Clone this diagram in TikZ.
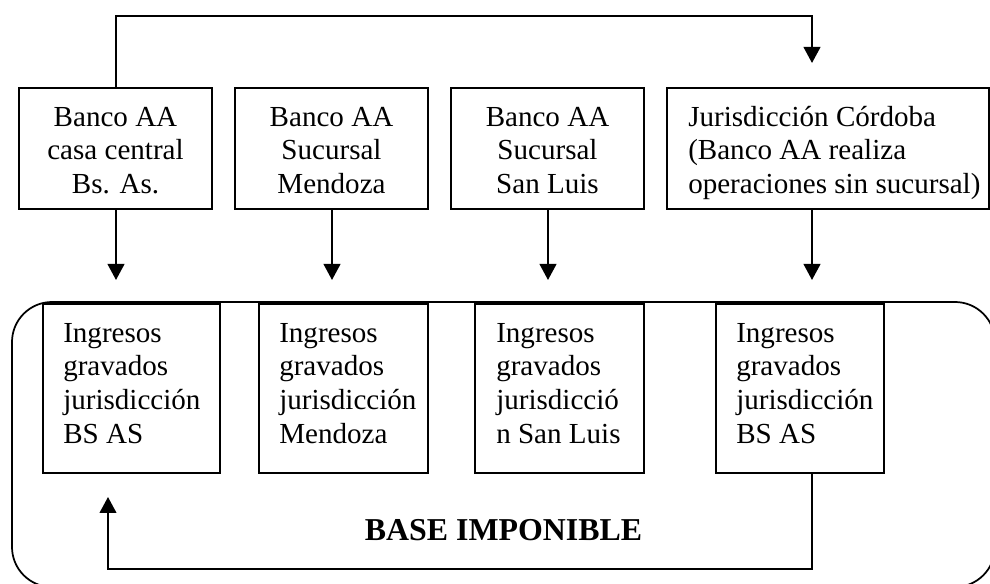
\documentclass[tikz,border=0pt]{standalone}
\usepackage{fontspec}
\setmainfont{Liberation Serif}
\usetikzlibrary{arrows.meta}
\begin{document}
\begin{tikzpicture}[x=0.75pt,y=-0.75pt,
  box/.style={draw, line width=1.1pt, inner sep=0pt},
  topbox/.style={box, minimum width=144.75pt, minimum height=90.75pt},
  inbox/.style={box, minimum height=126.75pt},
  txt/.style={inner sep=0pt, font=\fontsize{21.8}{25.2}\selectfont},
  arr/.style={line width=1.5pt, -{Triangle[length=12pt,width=12.5pt]}}]
\useasboundingbox (0,0) rectangle (990,584);
\clip (0,0) rectangle (990,584);
% outer rounded frame
\draw[line width=1.3pt, rounded corners=30pt] (12,302) rectangle (995,587);
% top boxes
\node[topbox] (b1) at (115.5,148.5) {};
\node[topbox] (b2) at (331.5,148.5) {};
\node[topbox] (b3) at (547.5,148.5) {};
\node[box, minimum width=241.5pt, minimum height=90.75pt] (b4) at (828,148.5) {};
\node[txt, anchor=north, align=center] (t1) at (115.5,99.33) {\rule{0pt}{20pt}Banco AA\\casa central\\Bs. As.};
\node[txt, anchor=north, align=center] (t2) at (331.5,99.33) {\rule{0pt}{20pt}Banco AA\\Sucursal\\Mendoza};
\node[txt, anchor=north, align=center] (t3) at (547.5,99.33) {\rule{0pt}{20pt}Banco AA\\Sucursal\\San Luis};
\node[txt, anchor=north west, align=left] (t4) at (688,99.33) {\rule{0pt}{20pt}Jurisdicción Córdoba\\(Banco AA realiza\\operaciones sin sucursal)};
% inner boxes
\node[inbox, minimum width=132.75pt] (i1) at (131.5,388.5) {};
\node[inbox, minimum width=126.75pt] (i2) at (343.5,388.5) {};
\node[inbox, minimum width=126.75pt] (i3) at (559.5,388.5) {};
\node[inbox, minimum width=126pt] (i4) at (800,388.5) {};
\node[txt, anchor=north west, align=left] (u1) at (63,315.33) {\rule{0pt}{20pt}Ingresos\\gravados\\jurisdicción\\BS AS};
\node[txt, anchor=north west, align=left] (u2) at (279,315.33) {\rule{0pt}{20pt}Ingresos\\gravados\\jurisdicción\\Mendoza};
\node[txt, anchor=north west, align=left] (u3) at (496,315.33) {\rule{0pt}{20pt}Ingresos\\gravados\\jurisdicció\\n San Luis};
\node[txt, anchor=north west, align=left] (u4) at (736,315.33) {\rule{0pt}{20pt}Ingresos\\gravados\\jurisdicción\\BS AS};
\node[inner sep=0pt, anchor=base, font=\fontsize{23.9}{28}\selectfont\bfseries] (base) at (503.5,541) {BASE IMPONIBLE};
% coordinates
\coordinate (topL) at (116,16);
\coordinate (topR) at (812,16);
\coordinate (topEnd) at (812,63);
\coordinate (d1) at (116,280);
\coordinate (d2) at (332,280);
\coordinate (d3) at (548,280);
\coordinate (d4) at (812,280);
\coordinate (loopR) at (812,569);
\coordinate (loopL) at (108,569);
\coordinate (loopEnd) at (108,497);
% connectors
\draw[arr] (b1.north -| topL) -- (topL) -- (topR) -- (topEnd);
\draw[arr] (b1.south -| d1) -- (d1);
\draw[arr] (b2.south -| d2) -- (d2);
\draw[arr] (b3.south -| d3) -- (d3);
\draw[arr] (b4.south -| d4) -- (d4);
\draw[arr] (i4.south -| loopR) -- (loopR) -- (loopL) -- (loopEnd);
\end{tikzpicture}
\end{document}
